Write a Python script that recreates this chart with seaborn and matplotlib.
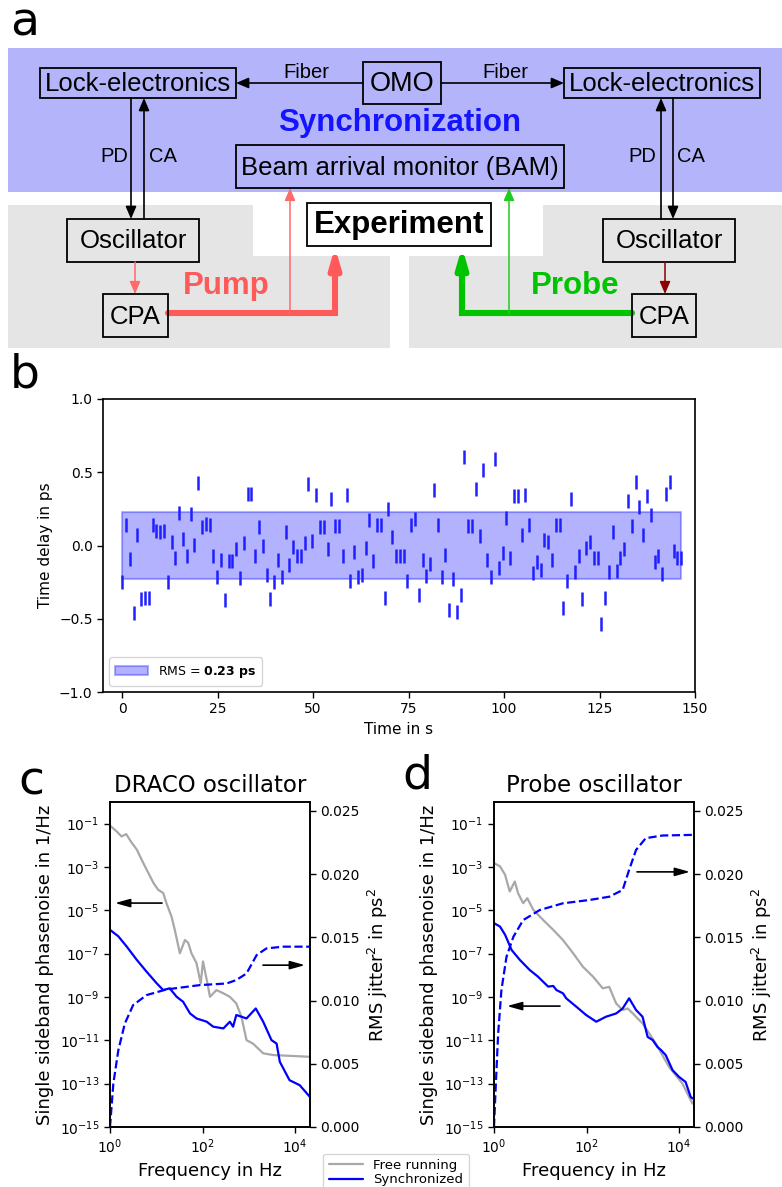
import numpy as np
import pandas as pd
import matplotlib
matplotlib.use("Agg")
import matplotlib.pyplot as plt
import seaborn as sns
from matplotlib.patches import Rectangle, Polygon
from matplotlib.lines import Line2D
from matplotlib.ticker import FixedLocator, NullLocator, LogFormatterMathtext, FormatStrFormatter

# ------------------------------------------------------------------ data
# panel b: measured time delay (ps), one sample per ~1 s
delay_ps = [
    -0.248, 0.141, -0.093, -0.464, 0.073, -0.366, -0.355, -0.355, 0.141, 0.102,
    0.089, 0.102, -0.248, 0.027, -0.086, 0.225, 0.043, -0.075, 0.214, 0.005,
    0.428, 0.128, 0.146, 0.139, -0.075, -0.218, -0.098, -0.373, -0.105, -0.105,
    -0.025, -0.225, 0.020, 0.350, 0.350, -0.075, 0.125, -0.002, -0.200, -0.366,
    -0.248, -0.098, -0.218, 0.089, -0.134, -0.007, -0.075, -0.075, 0.016, 0.419,
    0.030, 0.344, 0.125, 0.125, -0.025, 0.316, 0.132, 0.132, -0.075, 0.344,
    -0.241, -0.041, -0.218, -0.202, -0.018, 0.171, -0.105, 0.139, 0.139, -0.355,
    0.248, 0.059, -0.071, -0.071, -0.071, -0.241, 0.139, 0.180, -0.339, -0.098,
    -0.205, -0.127, 0.380, 0.139, -0.218, -0.066, -0.437, -0.227, -0.457, -0.341,
    0.605, 0.132, 0.132, 0.389, 0.064, 0.514, -0.096, -0.212, 0.592, -0.152,
    -0.052, 0.187, -0.084, 0.337, 0.337, 0.073, 0.344, 0.139, -0.191, -0.114,
    -0.166, 0.036, 0.027, -0.098, 0.139, 0.139, -0.430, -0.241, 0.316, -0.182,
    -0.075, -0.366, -0.018, 0.027, -0.084, -0.084, -0.539, -0.355, -0.182, 0.089,
    -0.173, -0.086, -0.025, 0.307, 0.132, 0.435, 0.262, 0.073, 0.337, 0.207,
    -0.114, -0.075, -0.196, 0.350, 0.435, -0.036, -0.084, -0.084,
]
sample_period_s = 0.996
rms_ps = 0.23
b_xticks = [0, 25, 50, 75, 100, 125, 150]
b_yticks = [-1.0, -0.5, 0.0, 0.5, 1.0]

# panel c: DRACO oscillator (log10 frequency / log10 phase noise)
draco_free_logf = [0.00, 0.14, 0.25, 0.35, 0.45, 0.58, 0.72, 0.83, 0.94, 1.04, 1.15, 1.22,
                   1.33, 1.40, 1.51, 1.62, 1.69, 1.76, 1.87, 1.96, 2.01, 2.09, 2.16, 2.30,
                   2.45, 2.59, 2.73, 2.84, 2.95, 3.09, 3.31, 3.53, 4.32]
draco_free_logS = [-1.09, -1.35, -1.59, -1.48, -1.82, -2.20, -2.82, -3.28, -3.74, -4.05, -4.20, -4.67,
                   -5.29, -5.90, -6.98, -6.37, -6.50, -6.98, -7.44, -8.37, -7.36, -8.20, -8.99, -8.68,
                   -8.83, -8.99, -9.30, -9.91, -10.99, -11.15, -11.60, -11.68, -11.76]
draco_sync_logf = [0.00, 0.18, 0.36, 0.58, 0.79, 1.01, 1.15, 1.29, 1.44, 1.58, 1.73, 1.87,
                   2.09, 2.23, 2.45, 2.59, 2.66, 2.73, 2.95, 3.15, 3.31, 3.49, 3.60, 3.67,
                   3.88, 4.10, 4.32]
draco_sync_logS = [-5.90, -6.20, -6.67, -7.29, -7.83, -8.37, -8.68, -8.60, -8.99, -9.22, -9.76, -9.99,
                   -10.14, -10.37, -10.45, -10.14, -10.37, -9.83, -9.99, -9.53, -10.14, -10.99, -11.15, -11.99,
                   -12.84, -13.07, -13.61]
draco_rms_logf = [0.00, 0.072, 0.18, 0.32, 0.50, 0.79, 1.22, 1.94, 2.52, 2.73, 2.95, 3.17,
                  3.38, 3.74, 4.32]
draco_rms_ps2 = [0.0, 0.00343, 0.00607, 0.00818, 0.00964, 0.01043, 0.01088, 0.01122, 0.01135, 0.01162,
                 0.01214, 0.01360, 0.01412, 0.01426, 0.01426]

# panel d: Probe oscillator
probe_free_logf = [0.00, 0.13, 0.24, 0.34, 0.45, 0.52, 0.63, 0.72, 0.85, 1.06, 1.28, 1.49,
                   1.71, 1.92, 2.14, 2.35, 2.49, 2.64, 2.78, 2.89, 3.00, 3.21, 3.50, 3.78,
                   4.07, 4.29]
probe_free_logS = [-2.82, -2.97, -3.36, -4.13, -3.67, -4.21, -4.67, -4.44, -4.98, -5.44, -5.90, -6.37,
                   -6.98, -7.60, -8.06, -8.60, -8.53, -9.30, -9.60, -9.53, -9.76, -10.22, -11.15, -12.22,
                   -12.99, -13.92]
probe_sync_logf = [0.00, 0.13, 0.24, 0.38, 0.56, 0.77, 0.95, 1.17, 1.28, 1.35, 1.49, 1.56,
                   1.78, 1.99, 2.21, 2.42, 2.64, 2.78, 2.92, 3.07, 3.21, 3.32, 3.43, 3.53,
                   3.61, 3.71, 3.86, 4.00, 4.14, 4.25, 4.30]
probe_sync_logS = [-5.59, -5.75, -6.13, -6.83, -7.29, -7.75, -8.06, -8.52, -8.49, -8.68, -8.83, -9.06,
                   -9.45, -9.83, -10.14, -9.91, -9.76, -9.53, -9.06, -9.60, -9.91, -10.84, -10.99, -11.30,
                   -11.45, -11.68, -12.38, -12.69, -12.92, -13.61, -13.69]
probe_rms_logf = [0.00, 0.04, 0.09, 0.16, 0.27, 0.42, 0.63, 0.99, 1.49, 2.06, 2.49, 2.78,
                  2.92, 3.07, 3.28, 3.64, 4.30]
probe_rms_ps2 = [0.0, 0.00343, 0.00739, 0.01082, 0.01346, 0.01505, 0.01636, 0.01716, 0.01769, 0.01795,
                 0.01821, 0.01874, 0.02033, 0.02191, 0.02284, 0.02305, 0.0231]

left_yticks = [1e-15, 1e-13, 1e-11, 1e-9, 1e-7, 1e-5, 1e-3, 1e-1]
right_yticks = [0.0, 0.005, 0.010, 0.015, 0.020, 0.025]
freq_xticks = [1e0, 1e2, 1e4]

# ------------------------------------------------------------------ style
sns.set_theme(style="ticks", context="notebook")
plt.rcParams.update({
    "font.family": ["DejaVu Sans"],
    "axes.linewidth": 1.2,
    "xtick.major.width": 1.0,
    "ytick.major.width": 1.0,
    "xtick.major.size": 4,
    "ytick.major.size": 4,
    "axes.edgecolor": "black",
    "xtick.color": "black",
    "ytick.color": "black",
    "axes.labelcolor": "black",
    "text.color": "black",
})

W, H = 782, 1187
fig = plt.figure(figsize=(W / 100, H / 100), dpi=100)


def fbox(x0, y0, x1, y1):
    """pixel box (top-left origin) -> figure fraction [l, b, w, h]"""
    return [x0 / W, 1 - y1 / H, (x1 - x0) / W, (y1 - y0) / H]


# ------------------------------------------------------------------ panel a (schematic)
FA = ["Liberation Sans", "DejaVu Sans"]
axa = fig.add_axes([0, 1 - 350 / H, 1, 350 / H])
axa.set_xlim(0, W)
axa.set_ylim(350, 0)
axa.axis("off")

BLUE_BG = "#b4b4fa"
GRAY_BG = "#e5e5e5"
RED = "#ff5a5a"
RED_THIN = "#ff6a6a"
GREEN = "#00c400"
DARKRED = "#8b0000"

axa.add_patch(Rectangle((8, 48), 774, 144, fc=BLUE_BG, ec="none", zorder=0))
axa.add_patch(Polygon([(8, 205), (253, 205), (253, 256), (390, 256), (390, 348), (8, 348)],
                      closed=True, fc=GRAY_BG, ec="none", zorder=0))
axa.add_patch(Polygon([(409, 256), (543, 256), (543, 205), (782, 205), (782, 348), (409, 348)],
                      closed=True, fc=GRAY_BG, ec="none", zorder=0))


def box(x0, y0, x1, y1, text, fs=18.5, fc="none", weight="normal"):
    axa.add_patch(Rectangle((x0, y0), x1 - x0, y1 - y0, fc=fc, ec="black", lw=1.3, zorder=3))
    axa.text((x0 + x1) / 2, (y0 + y1) / 2 + 1, text, ha="center", va="center", fontsize=fs,
             family=FA, weight=weight, zorder=4)


def arrow(x0, y0, x1, y1, color="black", lw=1.2, hw=0.32, hl=0.75):
    axa.annotate("", xy=(x1, y1), xytext=(x0, y0), zorder=5,
                 arrowprops=dict(arrowstyle=f"-|>,head_width={hw},head_length={hl}",
                                 color=color, lw=lw, shrinkA=0, shrinkB=0, mutation_scale=10))


box(40, 68, 236, 98, "Lock-electronics")
box(363, 62, 441, 104, "OMO", fs=19.5)
box(564, 68, 760, 98, "Lock-electronics")
box(236, 145, 564, 188, "Beam arrival monitor (BAM)")
box(67, 219, 199, 262, "Oscillator")
box(603, 219, 735, 262, "Oscillator")
box(103, 294, 168, 337, "CPA")
box(632, 294, 696, 337, "CPA")
box(307, 203, 491, 246, "Experiment", fs=22.5, fc="white", weight="bold")

axa.text(306, 72, "Fiber", ha="center", va="center", fontsize=14.5, family=FA)
axa.text(505, 72, "Fiber", ha="center", va="center", fontsize=14.5, family=FA)
axa.text(400, 123, "Synchronization", ha="center", va="center", fontsize=22.5,
         family=FA, weight="bold", color="#1414ff")
axa.text(114, 157, "PD", ha="center", va="center", fontsize=14.5, family=FA)
axa.text(163, 157, "CA", ha="center", va="center", fontsize=14.5, family=FA)
axa.text(642, 157, "PD", ha="center", va="center", fontsize=14.5, family=FA)
axa.text(691, 157, "CA", ha="center", va="center", fontsize=14.5, family=FA)
axa.text(226, 286, "Pump", ha="center", va="center", fontsize=22.5, family=FA,
         weight="bold", color=RED)
axa.text(575, 286, "Probe", ha="center", va="center", fontsize=22.5, family=FA,
         weight="bold", color=GREEN)

arrow(363, 83, 236, 83)
arrow(441, 83, 564, 83)
arrow(131, 98, 131, 219)
arrow(144, 219, 144, 98)
arrow(661, 219, 661, 98)
arrow(673, 98, 673, 219)
arrow(135, 262, 135, 294, color=RED_THIN, lw=1.1)
arrow(665, 262, 665, 294, color=DARKRED, lw=1.1)
arrow(290, 313, 290, 188, color=RED_THIN, lw=1.1)
arrow(509, 313, 509, 188, color="#22cc22", lw=1.1)
# thick pump / probe beams
axa.plot([168, 335, 335], [313, 313, 275], color=RED, lw=4.4, solid_joinstyle="miter", zorder=2)
arrow(335, 280, 335, 247, color=RED, lw=4.4, hw=0.32, hl=1.1)
axa.plot([632, 462, 462], [313, 313, 275], color=GREEN, lw=4.4, solid_joinstyle="miter", zorder=2)
arrow(462, 280, 462, 247, color=GREEN, lw=4.4, hw=0.32, hl=1.1)

# ------------------------------------------------------------------ panel b
axb = fig.add_axes(fbox(103, 399, 695, 692))
time_s = np.arange(len(delay_ps)) * sample_period_s
dfb = pd.DataFrame({"time": time_s, "delay": delay_ps})
axb.fill_between([time_s[0], time_s[-1]], -rms_ps, rms_ps, color="blue", alpha=0.3,
                 lw=1.5, label=r"RMS = $\mathbf{0.23\ ps}$", zorder=1)
sns.scatterplot(data=dfb, x="time", y="delay", ax=axb, marker="|", s=95, linewidth=1.8,
                color="#2020ff", zorder=3, legend=False)
axb.set_xlim(-5, 150)
axb.set_ylim(-1, 1)
axb.set_xticks(b_xticks)
axb.set_yticks(b_yticks)
axb.tick_params(labelsize=10)
axb.set_xlabel("Time in s", fontsize=11)
axb.set_ylabel("Time delay in ps", fontsize=11)
for s in axb.spines.values():
    s.set_visible(True)
axb.legend(loc="lower left", fontsize=9, frameon=True, handlelength=2.6, borderpad=0.5)

# ------------------------------------------------------------------ panels c, d
def phase_panel(rect, title, free_lf, free_lS, sync_lf, sync_lS, rms_lf, rms_v, arrows):
    ax = fig.add_axes(rect)
    ax.set_xscale("log")
    ax.set_yscale("log")
    d_free = pd.DataFrame({"f": np.power(10.0, free_lf), "S": np.power(10.0, free_lS)})
    d_sync = pd.DataFrame({"f": np.power(10.0, sync_lf), "S": np.power(10.0, sync_lS)})
    sns.lineplot(data=d_free, x="f", y="S", ax=ax, color="#a8a8a8", lw=1.6,
                 estimator=None, sort=False)
    sns.lineplot(data=d_sync, x="f", y="S", ax=ax, color="blue", lw=1.6,
                 estimator=None, sort=False)
    ax.set_xlim(1, 2.1e4)
    ax.set_ylim(1e-15, 1e0)
    ax.yaxis.set_major_locator(FixedLocator(left_yticks))
    ax.yaxis.set_major_formatter(LogFormatterMathtext())
    ax.yaxis.set_minor_locator(NullLocator())
    ax.xaxis.set_major_locator(FixedLocator(freq_xticks))
    ax.xaxis.set_major_formatter(LogFormatterMathtext())
    ax.xaxis.set_minor_locator(NullLocator())
    ax.tick_params(labelsize=10)
    ax.set_xlabel("Frequency in Hz", fontsize=13)
    ax.set_ylabel("Single sideband phasenoise in 1/Hz", fontsize=13)
    ax.set_title(title, fontsize=16.5, pad=7)
    for s in ax.spines.values():
        s.set_visible(True)

    ax2 = ax.twinx()
    d_rms = pd.DataFrame({"f": np.power(10.0, rms_lf), "J": rms_v})
    sns.lineplot(data=d_rms, x="f", y="J", ax=ax2, color="blue", lw=1.6, linestyle="--",
                 estimator=None, sort=False)
    ax2.set_xscale("log")
    ax2.set_xlim(1, 2.1e4)
    ax2.set_ylim(0, 0.0257)
    ax2.set_yticks(right_yticks)
    ax2.yaxis.set_major_formatter(FormatStrFormatter("%.3f"))
    ax2.tick_params(labelsize=10)
    ax2.set_ylabel(r"RMS jitter$^2$ in ps$^2$", fontsize=13)
    ax2.set_xlabel("")
    for (x0, y0, x1, y1) in arrows:
        ax2.annotate("", xy=(x1, y1), xytext=(x0, y0), xycoords="axes fraction",
                     textcoords="axes fraction",
                     arrowprops=dict(arrowstyle="-|>,head_width=0.25,head_length=0.9",
                                     color="black", lw=1.2, shrinkA=0, shrinkB=0,
                                     mutation_scale=10))
    return ax, ax2


phase_panel(fbox(110, 802, 310, 1127), "DRACO oscillator",
            draco_free_logf, draco_free_logS, draco_sync_logf, draco_sync_logS,
            draco_rms_logf, draco_rms_ps2,
            [(0.26, 0.689, 0.025, 0.689), (0.765, 0.498, 0.975, 0.498)])
phase_panel(fbox(494, 802, 694, 1127), "Probe oscillator",
            probe_free_logf, probe_free_logS, probe_sync_logf, probe_sync_logS,
            probe_rms_logf, probe_rms_ps2,
            [(0.715, 0.785, 0.98, 0.785), (0.33, 0.372, 0.065, 0.372)])

handles = [Line2D([], [], color="#a8a8a8", lw=1.6), Line2D([], [], color="blue", lw=1.6)]
fig.legend(handles, ["Free running", "Synchronized"], loc="upper center",
           bbox_to_anchor=(396 / W, 1 - 1147 / H), fontsize=9.5, frameon=True,
           handlelength=2.6, labelspacing=0.1, borderpad=0.4)

# panel letters
fig.text(25 / W, 1 - 1 / H, "a", fontsize=34, ha="center", va="top")
for letter, (px, py) in {"b": (25, 375), "c": (31, 782), "d": (417, 776)}.items():
    fig.text(px / W, 1 - py / H, letter, fontsize=34, ha="center", va="center")

fig.savefig("out.png", dpi=100)
